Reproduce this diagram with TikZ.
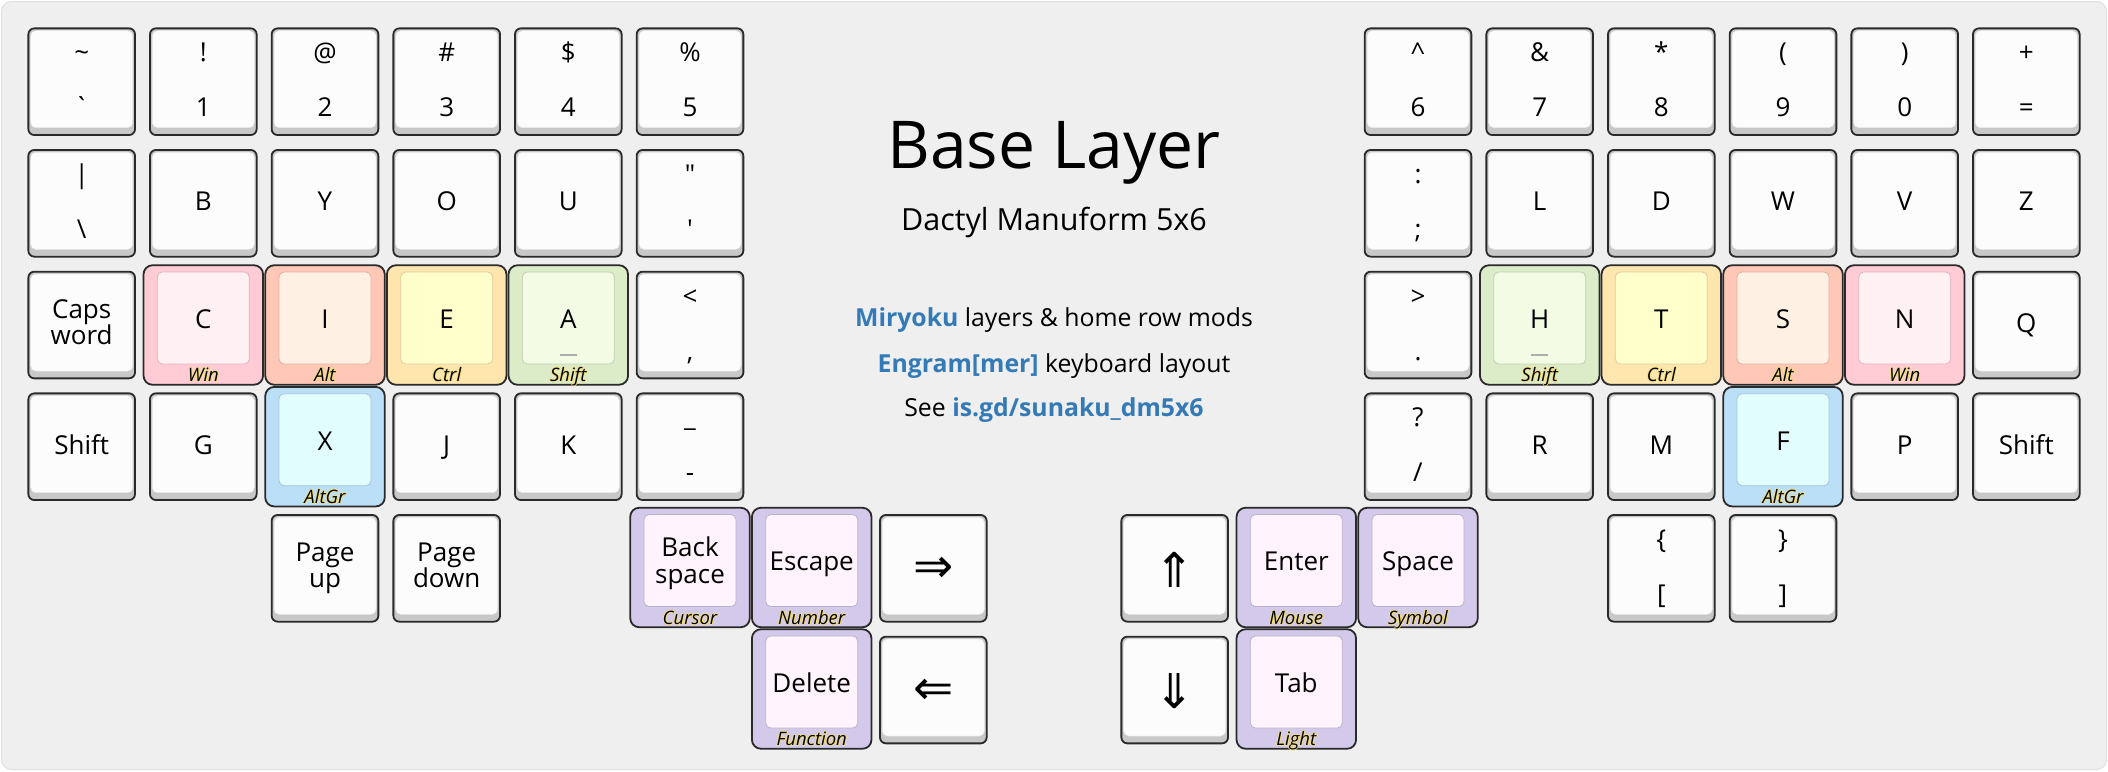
\documentclass[tikz,border=0pt]{standalone}
\usepackage{fontspec}
\setmainfont{Open Sans}[Ligatures=TeXOff]
\newfontfamily\symf{DejaVu Sans}
\definecolor{bgc}{HTML}{EFEFEF}
\definecolor{bgline}{HTML}{E0E0E0}
\definecolor{kborder}{HTML}{2A2A2A}
\definecolor{kside}{HTML}{C8C8C8}
\definecolor{kface}{HTML}{FCFCFC}
\definecolor{linkblue}{HTML}{337AB7}
\definecolor{glowc}{HTML}{F2DE7C}
\definecolor{winO}{HTML}{FFCCD5}\definecolor{winI}{HTML}{FFF0F4}
\definecolor{altO}{HTML}{FFC8B6}\definecolor{altI}{HTML}{FFF0E4}
\definecolor{ctlO}{HTML}{FFE6AE}\definecolor{ctlI}{HTML}{FFFFCC}
\definecolor{shfO}{HTML}{DCEBC8}\definecolor{shfI}{HTML}{F2FCE4}
\definecolor{agrO}{HTML}{BCDFF8}\definecolor{agrI}{HTML}{E2FDFE}
\definecolor{layO}{HTML}{D3C9EA}\definecolor{layI}{HTML}{FFF4FD}
\tikzset{
  pout/.style={rectangle, rounded corners=6pt, draw=kborder, line width=1.8pt, fill=kside, minimum width=106.7pt, minimum height=106.7pt, inner sep=0pt},
  pface/.style={rectangle, rounded corners=5pt, fill=kface, draw=kface!92!black, line width=0.5pt, minimum width=102pt, minimum height=97pt, inner sep=0pt},
  mout/.style={rectangle, rounded corners=9pt, draw=kborder, line width=1.8pt, minimum width=119.5pt, minimum height=119.5pt, inner sep=0pt},
  mface/.style={rectangle, rounded corners=5pt, line width=0.8pt, minimum width=92pt, minimum height=92pt, inner sep=0pt},
  ktext/.style={anchor=base, inner sep=0pt, font=\fontsize{26}{30}\selectfont},
  mlab/.style={anchor=base, inner sep=0pt, font=\fontsize{18.5}{22}\selectfont\itshape},
  bump/.style={draw=black!32, line width=2pt},
}
\newcommand\glow[1]{\makebox[0pt]{\textcolor{glowc}{#1\kern2pt}}\makebox[0pt]{\textcolor{glowc}{\kern2pt#1}}\makebox[0pt]{\textcolor{glowc}{\raisebox{0.8pt}{#1}}}\makebox[0pt]{\textcolor{glowc}{\raisebox{-1.4pt}{#1}}}\makebox[0pt]{#1}}
% plain key, single legend
\newcommand\KP[4]{%
  \node[pout] (#1) at (#2,#3) {};
  \node[pface] (#1f) at (#2,#3-2.5) {};
  \node[ktext] (#1t) at (#2,#3+7.5) {#4};}
% plain key, top / bottom legends
\newcommand\KT[5]{%
  \node[pout] (#1) at (#2,#3) {};
  \node[pface] (#1f) at (#2,#3-2.5) {};
  \node[ktext] (#1a) at (#2,#3-20) {#4};
  \node[ktext] (#1b) at (#2,#3+35) {#5};}
% plain key, two-line word
\newcommand\KW[5]{%
  \node[pout] (#1) at (#2,#3) {};
  \node[pface] (#1f) at (#2,#3-2.5) {};
  \node[ktext] (#1a) at (#2,#3-7) {#4};
  \node[ktext] (#1b) at (#2,#3+19) {#5};}
% plain key, arrow symbol
\newcommand\KA[4]{%
  \node[pout] (#1) at (#2,#3) {};
  \node[pface] (#1f) at (#2,#3-2.5) {};
  \node[inner sep=0pt, font=\fontsize{48}{52}\symf] (#1t) at (#2,#3+1.5) {#4};}
% hold-tap key
\newcommand\KM[6]{%
  \node[mout, fill=#6O] (#1) at (#2,#3) {};
  \node[mface, fill=#6I, draw=#6O!88!black] (#1f) at (#2,#3-7) {};
  \node[ktext] (#1t) at (#2,#3+3.3) {#4};
  \node[mlab] (#1l) at (#2,#3+56.5) {\glow{#5}};}
% hold-tap key, two-line word
\newcommand\KMW[7]{%
  \node[mout, fill=#7O] (#1) at (#2,#3) {};
  \node[mface, fill=#7I, draw=#7O!88!black] (#1f) at (#2,#3-7) {};
  \node[ktext] (#1a) at (#2,#3-11) {#4};
  \node[ktext] (#1b) at (#2,#3+16) {#5};
  \node[mlab] (#1l) at (#2,#3+56.5) {\glow{#6}};}
\begin{document}
\begin{tikzpicture}[x=1pt,y=-1pt]
\useasboundingbox (0,0) rectangle (2108,771);
\fill[white] (0,0) rectangle (2108,771);
\draw[fill=bgc, draw=bgline, line width=1pt, rounded corners=10pt] (1.5,1.5) rectangle (2106.5,769.5);
% ---------- left half ----------
\KT{kgrave}{81.7}{81.7}{\textasciitilde}{`}
\KT{kone}{203.3}{81.7}{!}{1}
\KT{ktwo}{325}{81.7}{@}{2}
\KT{kthree}{446.7}{81.7}{\#}{3}
\KT{kfour}{568.3}{81.7}{\$}{4}
\KT{kfive}{690}{81.7}{\%}{5}
\KT{kbslash}{81.7}{203.3}{|}{\textbackslash}
\KP{kb}{203.3}{203.3}{B}
\KP{ky}{325}{203.3}{Y}
\KP{ko}{446.7}{203.3}{O}
\KP{ku}{568.3}{203.3}{U}
\KT{kquote}{690}{203.3}{"}{'}
\KW{kcaps}{81.7}{325}{Caps}{word}
\KM{kc}{203.3}{325}{C}{Win}{win}
\KM{ki}{325}{325}{I}{Alt}{alt}
\KM{ke}{446.7}{325}{E}{Ctrl}{ctl}
\KM{ka}{568.3}{325}{A}{Shift}{shf}
\draw[bump] (560,355) -- (576.6,355);
\KT{kcomma}{690}{325}{<}{,}
\KP{klshift}{81.7}{446.7}{Shift}
\KP{kg}{203.3}{446.7}{G}
\KM{kx}{325}{446.7}{X}{AltGr}{agr}
\KP{kj}{446.7}{446.7}{J}
\KP{kk}{568.3}{446.7}{K}
\KT{kminus}{690}{446.7}{\_}{-}
\KW{kpgup}{325}{568.3}{Page}{up}
\KW{kpgdn}{446.7}{568.3}{Page}{down}
\KMW{kbksp}{690}{567.5}{Back}{space}{Cursor}{lay}
\KM{kesc}{811.7}{567.5}{Escape}{Number}{lay}
\KA{kright}{933.3}{568.3}{⇒}
\KM{kdel}{811.7}{689}{Delete}{Function}{lay}
\KA{kleft}{933.3}{690}{⇐}
% ---------- right half ----------
\KT{ksix}{1418}{81.7}{\textasciicircum}{6}
\KT{kseven}{1539.7}{81.7}{\&}{7}
\KT{keight}{1661.3}{81.7}{*}{8}
\KT{knine}{1783}{81.7}{(}{9}
\KT{kzero}{1904.7}{81.7}{)}{0}
\KT{kequal}{2026.3}{81.7}{+}{=}
\KT{ksemi}{1418}{203.3}{:}{;}
\KP{kl}{1539.7}{203.3}{L}
\KP{kd}{1661.3}{203.3}{D}
\KP{kw}{1783}{203.3}{W}
\KP{kv}{1904.7}{203.3}{V}
\KP{kz}{2026.3}{203.3}{Z}
\KT{kdot}{1418}{325}{>}{.}
\KM{kh}{1539.7}{325}{H}{Shift}{shf}
\draw[bump] (1531.4,355) -- (1548,355);
\KM{kt}{1661.3}{325}{T}{Ctrl}{ctl}
\KM{ks}{1783}{325}{S}{Alt}{alt}
\KM{kn}{1904.7}{325}{N}{Win}{win}
\KP{kq}{2026.3}{325}{Q}
\KT{kslash}{1418}{446.7}{?}{/}
\KP{kr}{1539.7}{446.7}{R}
\KP{km}{1661.3}{446.7}{M}
\KM{kf}{1783}{446.7}{F}{AltGr}{agr}
\KP{kp}{1904.7}{446.7}{P}
\KP{krshift}{2026.3}{446.7}{Shift}
\KA{kup}{1174.7}{568.3}{⇑}
\KM{kenter}{1296.3}{567.5}{Enter}{Mouse}{lay}
\KM{kspace}{1418}{567.5}{Space}{Symbol}{lay}
\KT{klbrace}{1661.3}{568.3}{\{}{[}
\KT{krbrace}{1783}{568.3}{\}}{]}
\KA{kdown}{1174.7}{690}{⇓}
\KM{ktab}{1296.3}{689}{Tab}{Light}{lay}
% ---------- centre texts ----------
\node[anchor=base, inner sep=0pt, font=\fontsize{66}{80}\selectfont] (title) at (1054,168.3) {Base Layer};
\node[anchor=base, inner sep=0pt, font=\fontsize{30.5}{36}\selectfont] (subtitle) at (1054,230.7) {Dactyl Manuform 5x6};
\node[anchor=base, inner sep=0pt, font=\fontsize{24.8}{30}\selectfont] (info1) at (1054,326.7) {\textcolor{linkblue}{\bfseries Miryoku} layers \& home row mods};
\node[anchor=base, inner sep=0pt, font=\fontsize{24.8}{30}\selectfont] (info2) at (1054,372.3) {\textcolor{linkblue}{\bfseries Engram[mer]} keyboard layout};
\node[anchor=base, inner sep=0pt, font=\fontsize{24.8}{30}\selectfont] (info3) at (1054,416.7) {See \textcolor{linkblue}{\bfseries is.gd/sunaku\_dm5x6}};
\end{tikzpicture}
\end{document}
